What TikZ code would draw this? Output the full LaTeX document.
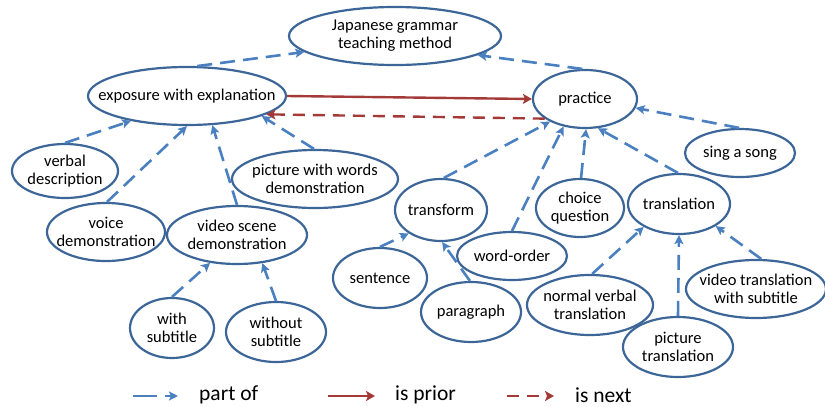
\documentclass[tikz,border=0pt]{standalone}
\usepackage{fontspec}
\setmainfont{Carlito}
\usetikzlibrary{shapes.geometric,arrows.meta}

\definecolor{ringblue}{HTML}{3D6698}
\definecolor{partblue}{HTML}{4A80C0}
\definecolor{seqred}{HTML}{A33A38}

\tikzset{
  % the outline size is fixed by minimum width/height; negative inner sep
  % keeps the label from enlarging the ellipse
  concept/.style={ellipse, draw=ringblue, line width=2.2pt,
    inner xsep=-40pt, inner ysep=-25pt,
    align=center, font=\fontsize{16.5}{18}\selectfont,
    minimum width=#1},
  partof/.style={draw=partblue, line width=2.6pt, dash pattern=on 15pt off 8pt,
    -{Stealth[length=9pt,width=9pt,inset=2pt]}},
  prior/.style={draw=seqred, line width=2.4pt,
    -{Stealth[length=9pt,width=10pt,inset=2pt]}},
  nextstep/.style={draw=seqred, line width=2.4pt, dash pattern=on 12pt off 8pt,
    -{Stealth[length=9pt,width=10pt,inset=2pt]}},
  legendtext/.style={anchor=west, inner sep=0pt, font=\fontsize{21.5}{24}\selectfont}
}

\begin{document}
\begin{tikzpicture}[x=1pt, y=-1pt]
\useasboundingbox (0,0) rectangle (825,407);

% concepts
\node[concept=212pt, minimum height=58pt] (jap) at (395,36) {Japanese grammar\\teaching method};
\node[concept=198pt, minimum height=58pt] (exp) at (187,96) {exposure with explanation};
\node[concept=104pt, minimum height=58pt] (prac) at (585,99) {practice};
\node[concept=110pt, minimum height=48pt] (sing) at (740,153) {sing a song};
\node[concept=106pt, minimum height=54pt] (verb) at (65,171) {verbal\\description};
\node[concept=118pt, minimum height=58pt] (voice) at (106,232) {voice\\demonstration};
\node[concept=140pt, minimum height=58pt] (video) at (237,235) {video scene\\demonstration};
\node[concept=166pt, minimum height=58pt] (pic) at (315,179) {picture with words\\demonstration};
\node[concept=84pt, minimum height=60pt] (withs) at (172,328) {with\\subtitle};
\node[concept=100pt, minimum height=60pt] (without) at (276,332) {without\\subtitle};
\node[concept=92pt, minimum height=62pt] (trans) at (441,210) {transform};
\node[concept=94pt, minimum height=60pt] (sent) at (380,278) {sentence};
\node[concept=110pt, minimum height=48pt] (word) at (512,256) {word-order};
\node[concept=100pt, minimum height=60pt] (para) at (471,312) {paragraph};
\node[concept=88pt, minimum height=58pt] (choice) at (580,208) {choice\\question};
\node[concept=102pt, minimum height=60pt] (tran) at (679,204) {translation};
\node[concept=126pt, minimum height=60pt] (normal) at (590,305) {normal verbal\\translation};
\node[concept=110pt, minimum height=60pt] (pictr) at (678,347) {picture\\translation};
\node[concept=140pt, minimum height=58pt] (vidtr) at (756,289) {video translation\\with subtitle};

% part-of links (child to parent)
\draw[partof] (exp.71) -- (jap.190);
\draw[partof] (prac.95) -- (jap.347);
\draw[partof] (verb.90) -- (exp.204);
\draw[partof] (voice.88) -- (exp.270);
\draw[partof] (video.90) -- (exp.311);
\draw[partof] (pic.92) -- (exp.345);
\draw[partof] (withs.90) -- (video.226);
\draw[partof] (without.90) -- (video.312);
\draw[partof] (sing.92) -- (prac.350);
\draw[partof] (trans.85) -- (prac.213);
\draw[partof] (word.90) -- (prac.232);
\draw[partof] (choice.88) -- (prac.272);
\draw[partof] (tran.92) -- (prac.294);
\draw[partof] (sent.90) -- (trans.216);
\draw[partof] (para.92) -- (trans.272);
\draw[partof] (normal.86) -- (tran.213);
\draw[partof] (pictr.90) -- (tran.270);
\draw[partof] (vidtr.80) -- (tran.329);

% order between the two main stages
\draw[prior] (exp.east) -- (prac.west);
\draw[nextstep] (prac.206) -- (exp.347);

% legend
\coordinate (pa) at (133,396);
\coordinate (pb) at (178,396);
\coordinate (ra) at (328,396);
\coordinate (rb) at (375,396);
\coordinate (na) at (507,396);
\coordinate (nb) at (554,396);
\draw[partof, dash pattern=on 24pt off 8pt] (pa) -- (pb);
\draw[prior] (ra) -- (rb);
\draw[nextstep, dash pattern=on 12pt off 8pt] (na) -- (nb);
\node[legendtext] (lp) at (199,395) {part of};
\node[legendtext] (lr) at (395,395) {is prior};
\node[legendtext] (ln) at (575,395) {is next};
\end{tikzpicture}
\end{document}
